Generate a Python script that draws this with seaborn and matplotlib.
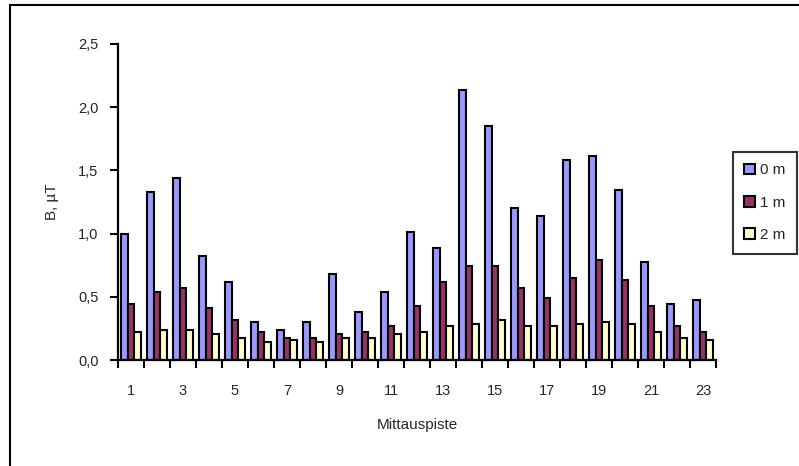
import matplotlib
matplotlib.use("Agg")
import matplotlib.pyplot as plt
import seaborn as sns
import pandas as pd
from matplotlib.patches import Rectangle

categories = [str(i) for i in range(1, 24)]
series_names = ["0 m", "1 m", "2 m"]
b0 = [1.00, 1.33, 1.44, 0.82, 0.62, 0.30, 0.24, 0.30, 0.68, 0.38, 0.54, 1.01,
      0.89, 2.14, 1.85, 1.20, 1.14, 1.58, 1.61, 1.345, 0.775, 0.445, 0.475]
b1 = [0.445, 0.54, 0.57, 0.41, 0.315, 0.22, 0.175, 0.175, 0.205, 0.22, 0.27, 0.43,
      0.62, 0.745, 0.745, 0.57, 0.49, 0.65, 0.79, 0.635, 0.43, 0.27, 0.22]
b2 = [0.22, 0.235, 0.235, 0.205, 0.175, 0.14, 0.16, 0.14, 0.175, 0.175, 0.205, 0.22,
      0.27, 0.285, 0.315, 0.27, 0.27, 0.285, 0.30, 0.285, 0.22, 0.175, 0.16]
colors = ["#9999FF", "#993366", "#FFFFCC"]
y_ticks = [0.0, 0.5, 1.0, 1.5, 2.0, 2.5]
y_ticklabels = ["0,0", "0,5", "1,0", "1,5", "2,0", "2,5"]

df = pd.DataFrame({
    "cat": categories * 3,
    "val": b0 + b1 + b2,
    "series": [series_names[0]] * 23 + [series_names[1]] * 23 + [series_names[2]] * 23,
})

sns.set_style("white")
plt.rcParams["font.family"] = ["Liberation Sans", "DejaVu Sans"]

fig = plt.figure(figsize=(7.99, 4.66), dpi=100)
ax = fig.add_axes([118 / 799, 1 - 360 / 466, (716 - 118) / 799, (360 - 44) / 466])

sns.barplot(data=df, x="cat", y="val", hue="series", order=categories,
            hue_order=series_names, palette=colors, width=0.78,
            edgecolor="black", linewidth=1.5, saturation=1, ax=ax, legend=True)

ax.set_xlim(-0.5, 22.5)
ax.set_ylim(0, 2.5)
ax.set_yticks(y_ticks)
ax.set_yticklabels(y_ticklabels, fontsize=10.5)

ax.set_xticks(range(0, 23, 2))
ax.set_xticklabels([categories[i] for i in range(0, 23, 2)], fontsize=10.5)
ax.set_xticks([i - 0.5 for i in range(24)], minor=True)
ax.tick_params(axis="x", which="major", bottom=True, length=0, pad=17)
ax.tick_params(axis="x", which="minor", bottom=True, length=6, width=1.5, color="black", direction="out")
ax.tick_params(axis="y", which="major", left=True, length=6, width=1.5, color="black", direction="out", pad=8)

for s in ["top", "right"]:
    ax.spines[s].set_visible(False)
for s in ["left", "bottom"]:
    ax.spines[s].set_color("black")
    ax.spines[s].set_linewidth(1.6)

ax.set_xlabel("Mittauspiste", fontsize=11, labelpad=15)
ax.set_ylabel("B, µT", fontsize=11, labelpad=14)
ax.grid(False)

handles, labels = ax.get_legend_handles_labels()
leg = ax.legend(handles, labels, loc="upper left",
                bbox_to_anchor=(733 / 799, 1 - 152 / 466), bbox_transform=fig.transFigure,
                fontsize=11, frameon=True, fancybox=False, edgecolor="black",
                handlelength=0.7, handleheight=0.7, handletextpad=0.3,
                labelspacing=1.2, borderpad=0.75, borderaxespad=0)
leg.get_frame().set_linewidth(1.5)

fig.patches.append(Rectangle((10 / 799, -0.1), 1.2, 1.1 - 5.5 / 466, transform=fig.transFigure,
                             fill=False, edgecolor="black", linewidth=1.5, zorder=10))

fig.savefig("out.png", dpi=100, facecolor="white")
